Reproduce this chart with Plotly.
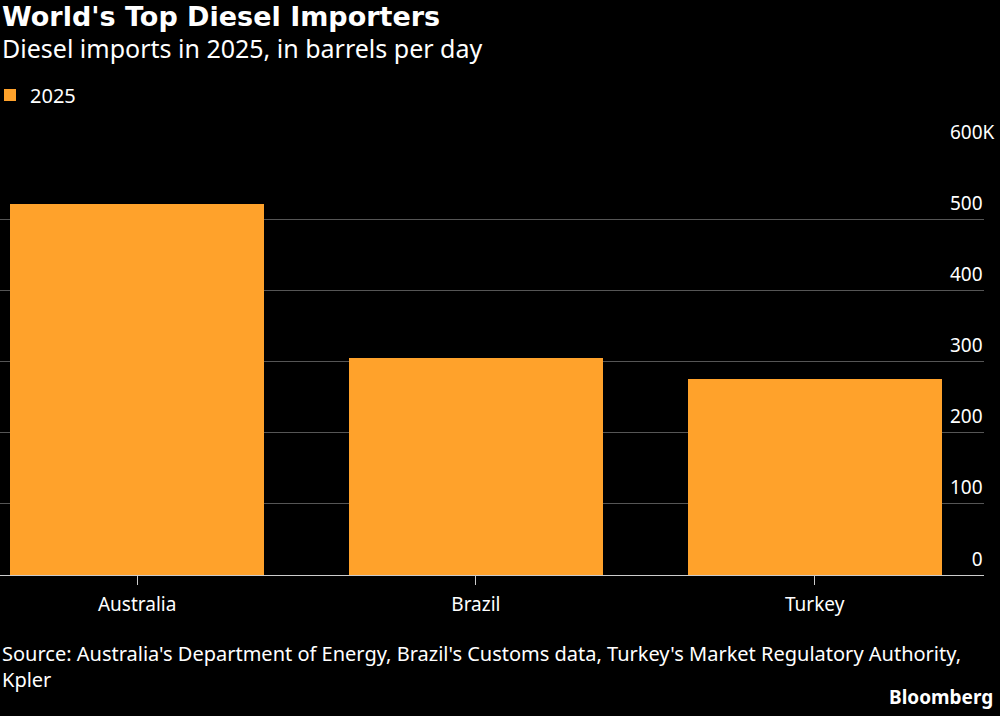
import plotly.graph_objects as go

# data
countries = ["Australia", "Brazil", "Turkey"]
imports_2025 = [521000, 305000, 276000]
series_name = "2025"

y_ticks = [0, 100000, 200000, 300000, 400000, 500000, 600000]
# the lone "0" is padded with invisible digits so it lines up on the right
pad = "<span style='color:rgba(0,0,0,0)'>00</span>"
y_tick_text = [pad + "0", "100", "200", "300", "400", "500", "600K"]

title = "<b>World's Top Diesel Importers</b>"
subtitle = "Diesel imports in 2025, in barrels per day"
source = ("Source: Australia's Department of Energy, Brazil's Customs data, "
          "Turkey's Market Regulatory Authority,<br>Kpler")

ORANGE = "#FFA22B"
FONT = "Noto Sans"

fig = go.Figure()
fig.add_trace(go.Bar(
    x=list(range(len(countries))),
    y=imports_2025,
    name=series_name,
    width=0.75,
    marker=dict(color=ORANGE, line=dict(width=0)),
    showlegend=True,
))

fig.update_layout(
    width=1000,
    height=716,
    paper_bgcolor="black",
    plot_bgcolor="black",
    font=dict(family=FONT, color="white", size=19),
    margin=dict(l=0, r=16, t=148, b=141),
    bargap=0,
    showlegend=True,
    legend=dict(
        x=0, y=1.124, xanchor="left", yanchor="middle",
        orientation="h",
        font=dict(size=20, color="white"),
        bgcolor="rgba(0,0,0,0)",
        indentation=-10,
    ),
    xaxis=dict(
        range=[-0.405, 2.5],
        tickmode="array",
        tickvals=list(range(len(countries))),
        ticktext=countries,
        showgrid=False,
        zeroline=False,
        showline=True,
        linecolor="#cccccc",
        linewidth=1,
        ticks="outside",
        ticklen=9,
        tickcolor="#cccccc",
        ticklabelstandoff=3,
        tickfont=dict(size=19, color="white"),
    ),
    yaxis=dict(
        range=[0, 600000],
        side="right",
        tickmode="array",
        tickvals=y_ticks,
        ticktext=y_tick_text,
        ticklabelposition="outside",
        ticklabelshift=-16,
        ticklabelstandoff=-35,
        showgrid=True,
        gridcolor="#555555",
        gridwidth=1,
        zeroline=False,
        showline=False,
        ticks="",
        tickfont=dict(size=19, color="white"),
    ),
    annotations=[
        dict(text=title, x=0, y=1.309, xref="paper", yref="paper",
             xanchor="left", yanchor="middle", showarrow=False,
             font=dict(size=27, color="white", family="DejaVu Sans")),
        dict(text=subtitle, x=0, y=1.2335, xref="paper", yref="paper",
             xanchor="left", yanchor="middle", showarrow=False,
             font=dict(size=25, color="white", family=FONT)),
        dict(text=source, x=0, y=-0.147, xref="paper", yref="paper",
             xanchor="left", yanchor="top", align="left", showarrow=False,
             font=dict(size=20, color="white", family=FONT)),
        dict(text="<b>Bloomberg</b>", x=1.0112, y=-0.2857, xref="paper", yref="paper",
             xanchor="right", yanchor="middle", showarrow=False,
             font=dict(size=19, color="white", family=FONT)),
    ],
)

fig.write_html("out.html", config={"displayModeBar": False},
               post_script="document.body.style.margin='0';")
